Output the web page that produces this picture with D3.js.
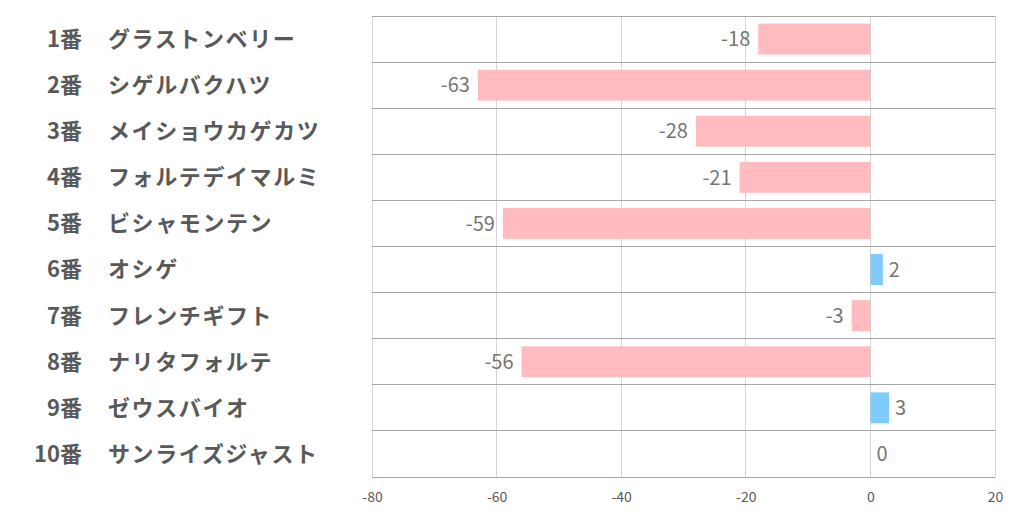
<!DOCTYPE html>
<html><head><meta charset="utf-8">
<script src="https://cdn.jsdelivr.net/npm/d3@7"></script>
<style>body{margin:0;background:#fff;}svg{display:block;}</style>
</head><body>
<svg id="c" width="1022" height="522"></svg>
<script>
const numbers = ["1番","2番","3番","4番","5番","6番","7番","8番","9番","10番"];
const names = ["グラストンベリー","シゲルバクハツ","メイショウカゲカツ","フォルテデイマルミ","ビシャモンテン","オシゲ","フレンチギフト","ナリタフォルテ","ゼウスバイオ","サンライズジャスト"];
const values = [-18,-63,-28,-21,-59,2,-3,-56,3,0];
const ticks = [-80,-60,-40,-20,0,20];

const svg = d3.select("#c");
const L=372,R=995,T=16,B=477;
const x = d3.scaleLinear().domain([-80,20]).range([L,R]);
const y = d3.scaleBand().domain(numbers).range([T,B]).paddingInner(0.33).paddingOuter(0.165);
const rowY = d3.scaleBand().domain(numbers).range([T,B]);
const font = "'Noto Sans CJK JP','Noto Sans',sans-serif";

// vertical grid
svg.append("g").selectAll("line").data(ticks).join("line")
 .attr("x1",d=>x(d)).attr("x2",d=>x(d)).attr("y1",T).attr("y2",B)
 .attr("stroke","#d4d4d4").attr("stroke-width",1).attr("shape-rendering","crispEdges");
// horizontal separators
const seps = numbers.map(n=>rowY(n)).concat([B]);
svg.append("g").selectAll("line").data(seps).join("line")
 .attr("x1",L).attr("x2",R).attr("y1",d=>d).attr("y2",d=>d)
 .attr("stroke","#a6a6a6").attr("stroke-width",1).attr("shape-rendering","crispEdges");

// bars
svg.append("g").selectAll("rect").data(values).join("rect")
 .attr("x",d=>x(Math.min(0,d))).attr("width",d=>Math.abs(x(d)-x(0)))
 .attr("y",(d,i)=>y(numbers[i])).attr("height",y.bandwidth())
 .attr("fill",d=>d>0?"#7fcbfa":"#ffbbbf");

// value labels
svg.append("g").selectAll("text").data(values).join("text")
 .attr("x",d=>d<0?x(d)-8:x(d)+6)
 .attr("y",(d,i)=>rowY(numbers[i])+rowY.bandwidth()/2)
 .attr("dy","0.36em")
 .attr("text-anchor",d=>d<0?"end":"start")
 .attr("font-family",font).attr("font-size",20).attr("fill","#767676")
 .text(d=>String(d));

// category labels
const cat = svg.append("g").attr("font-family",font).attr("font-weight","bold").attr("font-size",22).attr("fill","#595959");
cat.selectAll("text.n").data(numbers).join("text").attr("class","n")
 .attr("x",82).attr("y",d=>rowY(d)+rowY.bandwidth()/2).attr("dy","0.36em")
 .attr("text-anchor","end").text(d=>d);
cat.selectAll("text.m").data(names).join("text").attr("class","m")
 .attr("x",108).attr("y",(d,i)=>rowY(numbers[i])+rowY.bandwidth()/2).attr("dy","0.36em")
 .attr("letter-spacing","1.6px")
 .attr("text-anchor","start").text(d=>d);

// x axis
const ax = svg.append("g").attr("transform",`translate(0,${B})`)
 .call(d3.axisBottom(x).tickValues(ticks).tickSize(0).tickPadding(15).tickFormat(d=>String(d)));
ax.select(".domain").remove();
ax.selectAll("text").attr("font-family",font).attr("font-size",14).attr("fill","#595959");
</script>
</body></html>
